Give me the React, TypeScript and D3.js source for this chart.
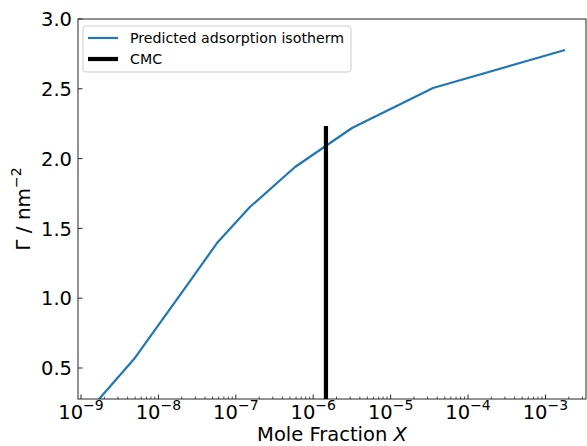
import * as d3 from 'd3';

// Values
const isothermX = [1e-9, 4.84e-9, 2.41e-8, 5.71e-8, 1.52e-7, 5.82e-7, 3.17e-6, 3.53e-5, 1.79e-3];
const isothermGamma = [0.13, 0.564, 1.102, 1.395, 1.653, 1.94, 2.219, 2.506, 2.778];
const cmcX = 1.46e-6;
const cmcGamma = [0, 2.233];
const xTickExponents = [-9, -8, -7, -6, -5, -4, -3];
const yTicks = [0.5, 1.0, 1.5, 2.0, 2.5, 3.0];
const legendLabels = ['Predicted adsorption isotherm', 'CMC'];

const W = 587;
const H = 446;
const margin = { top: 19, right: 1, bottom: 47, left: 78 };
const FONT = 'DejaVu Sans, sans-serif';
const BLUE = '#1f77b4';
const AXIS = '#262626';

export default function App() {
  const x = d3.scaleLog()
    .domain([Math.pow(10, -9.039), Math.pow(10, -2.476)])
    .range([margin.left, W - margin.right]);
  const y = d3.scaleLinear()
    .domain([0.278, 3.0])
    .range([H - margin.bottom, margin.top]);

  const [x0, x1] = x.range();
  const [y0, y1] = y.range();

  const pts = isothermX.map((v, i) => [v, isothermGamma[i]] as [number, number]);
  const linePath = d3.line<[number, number]>()
    .x((d) => x(d[0]))
    .y((d) => y(d[1]))(pts) ?? '';

  // minor ticks 2..9 in every decade
  const minor: number[] = [];
  for (let e = -10; e <= -2; e++) {
    for (let m = 2; m <= 9; m++) {
      const v = m * Math.pow(10, e);
      const px = x(v);
      if (px >= x0 && px <= x1) minor.push(v);
    }
  }

  const legend = { x: 83, y: 26, w: 268, h: 46 };

  return (
    <svg width={W} height={H} style={{ position: 'absolute', left: 0, top: 0, background: '#fff' }}
      fontFamily={FONT}>
      <defs>
        <clipPath id="plot-clip">
          <rect x={x0} y={y1} width={x1 - x0} height={y0 - y1} />
        </clipPath>
      </defs>

      <g clipPath="url(#plot-clip)">
        <path d={linePath} fill="none" stroke={BLUE} strokeWidth={2.2} strokeLinejoin="round" />
        <line x1={x(cmcX)} x2={x(cmcX)} y1={y(cmcGamma[0])} y2={y(cmcGamma[1])}
          stroke="#000" strokeWidth={4.2} />
      </g>

      {/* spines */}
      <rect x={x0} y={y1} width={x1 - x0} height={y0 - y1} fill="none" stroke={AXIS} strokeWidth={1} />

      {/* x ticks (inward) */}
      {minor.map((v) => (
        <line key={`m${v}`} x1={x(v)} x2={x(v)} y1={y0} y2={y0 - 2.5} stroke={AXIS} strokeWidth={0.8} />
      ))}
      {xTickExponents.map((e) => {
        const px = x(Math.pow(10, e));
        return (
          <g key={`x${e}`}>
            <line x1={px} x2={px} y1={y0} y2={y0 - 4.5} stroke={AXIS} strokeWidth={1} />
            <text x={px} y={418.5} textAnchor="middle" fontSize={19.5} fill="#000">
              10<tspan fontSize={14} dy={-9}>{`\u2212${Math.abs(e)}`}</tspan>
            </text>
          </g>
        );
      })}

      {/* y ticks (inward) */}
      {yTicks.map((t) => (
        <g key={`y${t}`}>
          <line x1={x0} x2={x0 + 4.5} y1={y(t)} y2={y(t)} stroke={AXIS} strokeWidth={1} />
          <text x={x0 - 6} y={y(t) + 7.2} textAnchor="end" fontSize={19.5} fill="#000">
            {t.toFixed(1)}
          </text>
        </g>
      ))}

      {/* axis labels */}
      <text x={(x0 + x1) / 2} y={441.3} textAnchor="middle" fontSize={19.5} fill="#000">
        Mole Fraction <tspan fontStyle="italic">X</tspan>
      </text>
      <text transform={`translate(30,${(y0 + y1) / 2}) rotate(-90)`} textAnchor="middle" fontSize={20} fill="#000">
        Γ / nm<tspan fontSize={14} dy={-9}>−2</tspan>
      </text>

      {/* legend */}
      <rect x={legend.x} y={legend.y} width={legend.w} height={legend.h} rx={3}
        fill="#fff" fillOpacity={0.8} stroke="#cccccc" strokeWidth={1} />
      <line x1={88} x2={118} y1={38} y2={38} stroke={BLUE} strokeWidth={2.2} />
      <text x={130} y={43} fontSize={14.2} fill="#000">{legendLabels[0]}</text>
      <line x1={88} x2={118} y1={59} y2={59} stroke="#000" strokeWidth={4.2} />
      <text x={130} y={64} fontSize={14.2} fill="#000">{legendLabels[1]}</text>
    </svg>
  );
}
